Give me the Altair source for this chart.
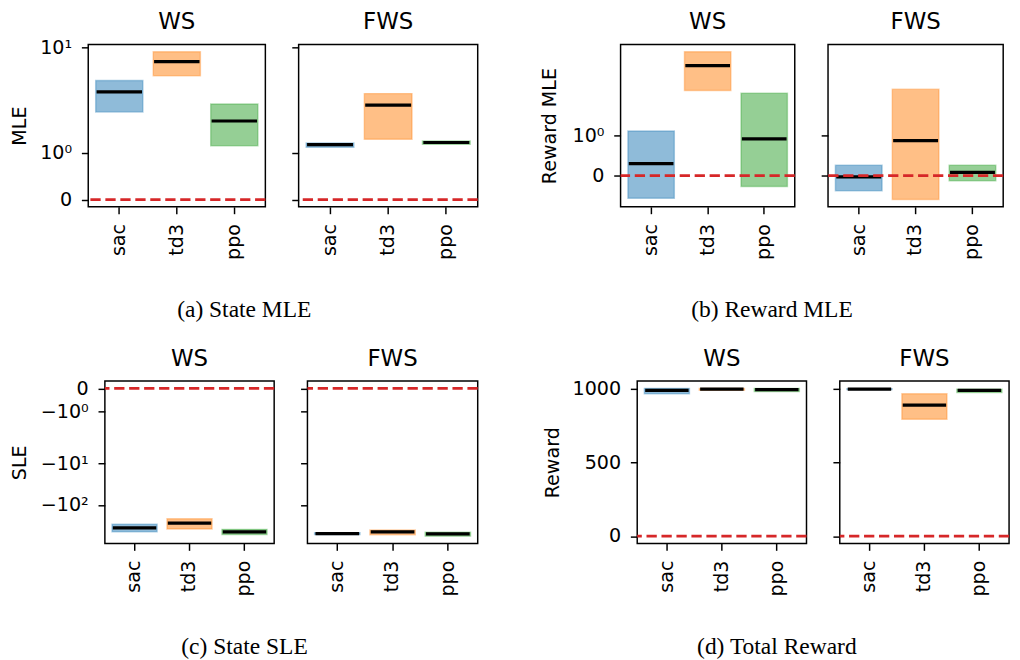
import math
import altair as alt
import pandas as pd

# ---------------------------------------------------------------- data
ALGOS = ["sac", "td3", "ppo"]
SETTINGS = ["WS", "FWS"]
COLORS = ["#1f77b4", "#ff7f0e", "#2ca02c"]

# (a) State MLE  (low / median / high per algorithm)
STATE_MLE_WS_LO = [1.87, 4.59, 1.15]
STATE_MLE_WS_MED = [2.94, 6.76, 1.68]
STATE_MLE_WS_HI = [4.03, 8.84, 2.11]
STATE_MLE_FWS_LO = [1.12, 1.29, 1.18]
STATE_MLE_FWS_MED = [1.175, 2.05, 1.22]
STATE_MLE_FWS_HI = [1.21, 2.81, 1.25]

# (b) Reward MLE
REWARD_MLE_WS_LO = [-0.563, 2.31, -0.273]
REWARD_MLE_WS_MED = [0.30, 5.09, 0.911]
REWARD_MLE_WS_HI = [1.11, 7.94, 2.12]
REWARD_MLE_FWS_LO = [-0.377, -0.594, -0.128]
REWARD_MLE_FWS_MED = [-0.031, 0.87, 0.082]
REWARD_MLE_FWS_HI = [0.258, 2.42, 0.258]

# (c) State SLE
STATE_SLE_WS_LO = [-438, -379, -515]
STATE_SLE_WS_MED = [-354, -274, -446]
STATE_SLE_WS_HI = [-289, -213, -386]
STATE_SLE_FWS_LO = [-515, -524, -562]
STATE_SLE_FWS_MED = [-489, -446, -497]
STATE_SLE_FWS_HI = [-465, -400, -453]

# (d) Total Reward
TOTAL_REWARD_WS_LO = [967, 990, 982]
TOTAL_REWARD_WS_MED = [990, 998, 995]
TOTAL_REWARD_WS_HI = [1003, 1002, 1003]
TOTAL_REWARD_FWS_LO = [995, 793, 975]
TOTAL_REWARD_FWS_MED = [998, 889, 989]
TOTAL_REWARD_FWS_HI = [1000, 967, 998]

REFERENCE_LINE = [0.0]

# axis tick values (data space) and captions
STATE_MLE_TICKS = [0, 1, 10]
REWARD_MLE_TICKS = [0, 1]
STATE_SLE_TICKS = [0, -1, -10, -100]
TOTAL_REWARD_TICKS = [0, 500, 1000]
CAPTIONS = ["(a) State MLE", "(b) Reward MLE", "(c) State SLE", "(d) Total Reward"]

TABLE = {
    ("State MLE", "WS"): (STATE_MLE_WS_LO, STATE_MLE_WS_MED, STATE_MLE_WS_HI),
    ("State MLE", "FWS"): (STATE_MLE_FWS_LO, STATE_MLE_FWS_MED, STATE_MLE_FWS_HI),
    ("Reward MLE", "WS"): (REWARD_MLE_WS_LO, REWARD_MLE_WS_MED, REWARD_MLE_WS_HI),
    ("Reward MLE", "FWS"): (REWARD_MLE_FWS_LO, REWARD_MLE_FWS_MED, REWARD_MLE_FWS_HI),
    ("State SLE", "WS"): (STATE_SLE_WS_LO, STATE_SLE_WS_MED, STATE_SLE_WS_HI),
    ("State SLE", "FWS"): (STATE_SLE_FWS_LO, STATE_SLE_FWS_MED, STATE_SLE_FWS_HI),
    ("Total Reward", "WS"): (TOTAL_REWARD_WS_LO, TOTAL_REWARD_WS_MED, TOTAL_REWARD_WS_HI),
    ("Total Reward", "FWS"): (TOTAL_REWARD_FWS_LO, TOTAL_REWARD_FWS_MED, TOTAL_REWARD_FWS_HI),
}
rows = []
for (metric, setting), (lo, med, hi) in TABLE.items():
    for i, a in enumerate(ALGOS):
        rows.append({"metric": metric, "setting": setting, "algo": a,
                     "lo": lo[i], "med": med[i], "hi": hi[i]})
df = pd.DataFrame(rows)
ref_df = pd.DataFrame({"ref": REFERENCE_LINE})

# ------------------------------------------------- symlog (matplotlib style)
LT = 2.0
LS = 1.0 / (1.0 - 1.0 / 10.0)


def symlog(v):
    if abs(v) <= LT:
        return v * LS
    return math.copysign(LT * (LS + math.log10(abs(v) / LT)), v)


def symlog_expr(field):
    f = f"datum['{field}']"
    return (f"abs({f}) <= {LT} ? {f} * {LS} : "
            f"({f} > 0 ? 1 : -1) * {LT} * ({LS} + log(abs({f}) / {LT}) / LN10)")


INV = (f"(abs(datum.value) <= {LT * LS + 1e-9} ? datum.value / {LS} : "
       f"(datum.value > 0 ? 1 : -1) * {LT} * pow(10, abs(datum.value) / {LT} - {LS}))")
SUP = "['\u2070','\u00b9','\u00b2','\u00b3']"
LABEL_EXPR = (f"abs({INV}) < 1e-6 ? '0' : ({INV} < 0 ? '\u2212' : '') + '10' + "
              f"{SUP}[round(log(abs({INV})) / LN10)]")

BASE_FONT = 19.5
TITLE_FONT = 23.4
FONT = "DejaVu Sans"
PLOT_H = 166


def panel(metric, setting, width, use_symlog, ticks, ytitle, first, title_dy, title_x):
    base = alt.Chart(df).transform_filter(
        (alt.datum.metric == metric) & (alt.datum.setting == setting))
    if use_symlog:
        base = base.transform_calculate(
            t_lo=symlog_expr("lo"), t_med=symlog_expr("med"), t_hi=symlog_expr("hi"))
        tick_vals = [symlog(v) for v in ticks]
    else:
        base = base.transform_calculate(
            t_lo="datum.lo", t_med="datum.med", t_hi="datum.hi")
        tick_vals = list(ticks)

    axis_kw = dict(values=tick_vals, labels=first, grid=False, domain=False,
                   tickColor="black", tickWidth=1.5, tickSize=7,
                   labelFont=FONT, labelFontSize=BASE_FONT, labelColor="black",
                   labelPadding=10)
    if first:
        axis_kw.update(title=ytitle, titleFont=FONT, titleFontSize=BASE_FONT,
                       titleFontWeight="normal", titleColor="black",
                       titleX=title_x, titleY=PLOT_H / 2, titleAngle=270,
                       titleAlign="center", titleBaseline="middle")
        if use_symlog:
            axis_kw["labelExpr"] = LABEL_EXPR
        else:
            axis_kw["format"] = "d"
    else:
        axis_kw["title"] = None
    yaxis = alt.Axis(**axis_kw)
    yscale = alt.Scale(zero=False, nice=False, padding=7.5)

    xaxis = alt.Axis(title=None, labelAngle=270, labelAlign="right",
                     labelBaseline="middle", domain=False, grid=False,
                     tickColor="black", tickWidth=1.5, tickSize=7,
                     labelFont=FONT, labelFontSize=BASE_FONT,
                     labelColor="black", labelPadding=10)
    x = alt.X("algo:N", sort=ALGOS, axis=xaxis,
              scale=alt.Scale(paddingInner=0, paddingOuter=0.04))
    cscale = alt.Scale(domain=ALGOS, range=COLORS)

    boxes = base.mark_bar(width=alt.RelativeBandSize(0.82), fillOpacity=0.5,
                          strokeOpacity=0.35, strokeWidth=1.5).encode(
        x=x,
        y=alt.Y("t_lo:Q", scale=yscale, axis=yaxis),
        y2="t_hi:Q",
        color=alt.Color("algo:N", scale=cscale, legend=None),
        stroke=alt.Stroke("algo:N", scale=cscale, legend=None),
    )
    step = width / 3.08
    medians = base.mark_tick(color="black", thickness=3.3, size=0.79 * step,
                             opacity=1).encode(
        x=x, y=alt.Y("t_med:Q", scale=yscale, axis=yaxis))
    zero = alt.Chart(ref_df).mark_rule(color="#d62728", strokeWidth=2.8,
                                       strokeDash=[10.5, 4.8]).encode(
        y=alt.Y("ref:Q", scale=yscale, axis=yaxis))
    return alt.layer(boxes, medians, zero).properties(
        width=width, height=PLOT_H,
        title=alt.TitleParams(setting, font=FONT, fontSize=TITLE_FONT,
                              fontWeight="normal", color="black",
                              anchor="middle", frame="group",
                              offset=10, dy=title_dy))


def group(metric, caption, widths, use_symlog, ticks, ytitle, ws_dy, title_x):
    ws = panel(metric, "WS", widths[0], use_symlog, ticks, ytitle, True, ws_dy, title_x)
    fws = panel(metric, "FWS", widths[1], use_symlog, ticks, ytitle, False, 0, 0)
    return alt.hconcat(ws, fws, spacing=22).resolve_scale(
        x="independent", y="shared").resolve_axis(
        x="independent", y="independent").properties(
        title=alt.TitleParams(caption, orient="bottom", anchor="middle",
                              frame="bounds", font="Liberation Serif",
                              fontSize=24, fontWeight="normal",
                              color="black", offset=39))


ga = group("State MLE", CAPTIONS[0], (181, 183), True, STATE_MLE_TICKS, "MLE", 7, -70.5)
gb = group("Reward MLE", CAPTIONS[1], (178, 179), True, REWARD_MLE_TICKS, "Reward MLE", 0, -73)
gc = group("State SLE", CAPTIONS[2], (173, 174), True, STATE_SLE_TICKS, "SLE", 3, -87)
gd = group("Total Reward", CAPTIONS[3], (173, 173), False, TOTAL_REWARD_TICKS, "Reward", 2, -86)

# invisible 1px cell: lets the lower row start further left than the upper one
spacer = alt.Chart(ref_df).mark_point(opacity=0).properties(
    width=1, height=1, view=alt.ViewBackground(strokeOpacity=0))

row1 = alt.hconcat(ga, gb, spacing=59)
row2 = alt.hconcat(spacer, alt.hconcat(gc, gd, spacing=63), spacing=-85)
chart = alt.concat(row1, row2, columns=1, spacing=24).properties(
    padding={"left": 0, "top": -6, "right": 0, "bottom": 0},
    background="white",
).configure_view(stroke="black", strokeWidth=1.5)

chart.save("out.html", embed_options={"renderer": "svg", "actions": False})
